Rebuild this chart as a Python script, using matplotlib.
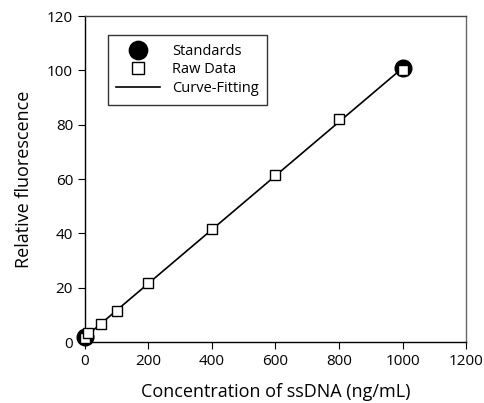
import numpy as np
import matplotlib.pyplot as plt

plt.rcParams['font.family'] = ['Open Sans', 'DejaVu Sans']

# standards (large black dots)
std_x = [0, 1000]
std_y = [2.0, 100.8]

# raw data (open squares)
raw_x = [0, 10, 50, 100, 200, 400, 600, 800, 1000]
raw_y = [1.5, 3.2, 6.6, 11.3, 21.7, 41.5, 61.5, 82.0, 100.0]

# linear fit
coef = np.polyfit(raw_x, raw_y, 1)
fit_x = np.array([0, 1000])
fit_y = np.polyval(coef, fit_x)

fig = plt.figure(figsize=(4.85, 4.03), dpi=100)
ax = fig.add_axes([0.175, 0.151, 0.786, 0.809])

ax.plot(std_x, std_y, 'o', color='black', markersize=12, label='Standards', zorder=2)
ax.plot(fit_x, fit_y, '-', color='black', lw=1.2, label='Curve-Fitting', zorder=3)
ax.plot(raw_x, raw_y, 's', mfc='white', mec='black', mew=1.0, markersize=7.5,
        label='Raw Data', zorder=4)

ax.set_xlim(0, 1200)
ax.set_ylim(0, 120)
ax.set_xticks(np.arange(0, 1201, 200))
ax.set_yticks(np.arange(0, 121, 20))
ax.tick_params(direction='out', length=5, labelsize=11, top=False, right=False)
ax.set_xlabel('Concentration of ssDNA (ng/mL)', fontsize=13, labelpad=10)
ax.set_ylabel('Relative fluorescence', fontsize=13, labelpad=10)
for s in ax.spines.values():
    s.set_linewidth(1.0)
ax.spines['right'].set_color('#666666')
ax.spines['top'].set_color('#444444')

h, l = ax.get_legend_handles_labels()
order = [0, 2, 1]
leg = ax.legend([h[i] for i in order], [l[i] for i in order], loc='upper left',
                bbox_to_anchor=(0.06, 0.942), borderaxespad=0, fontsize=10.5,
                frameon=True, fancybox=False, edgecolor='black', handlelength=3.0,
                borderpad=0.6, labelspacing=0.25, markerscale=1.1)
leg.get_frame().set_linewidth(1.0)
for ln in ax.lines:
    ln.set_clip_on(False)

fig.savefig('out.png', dpi=100)
